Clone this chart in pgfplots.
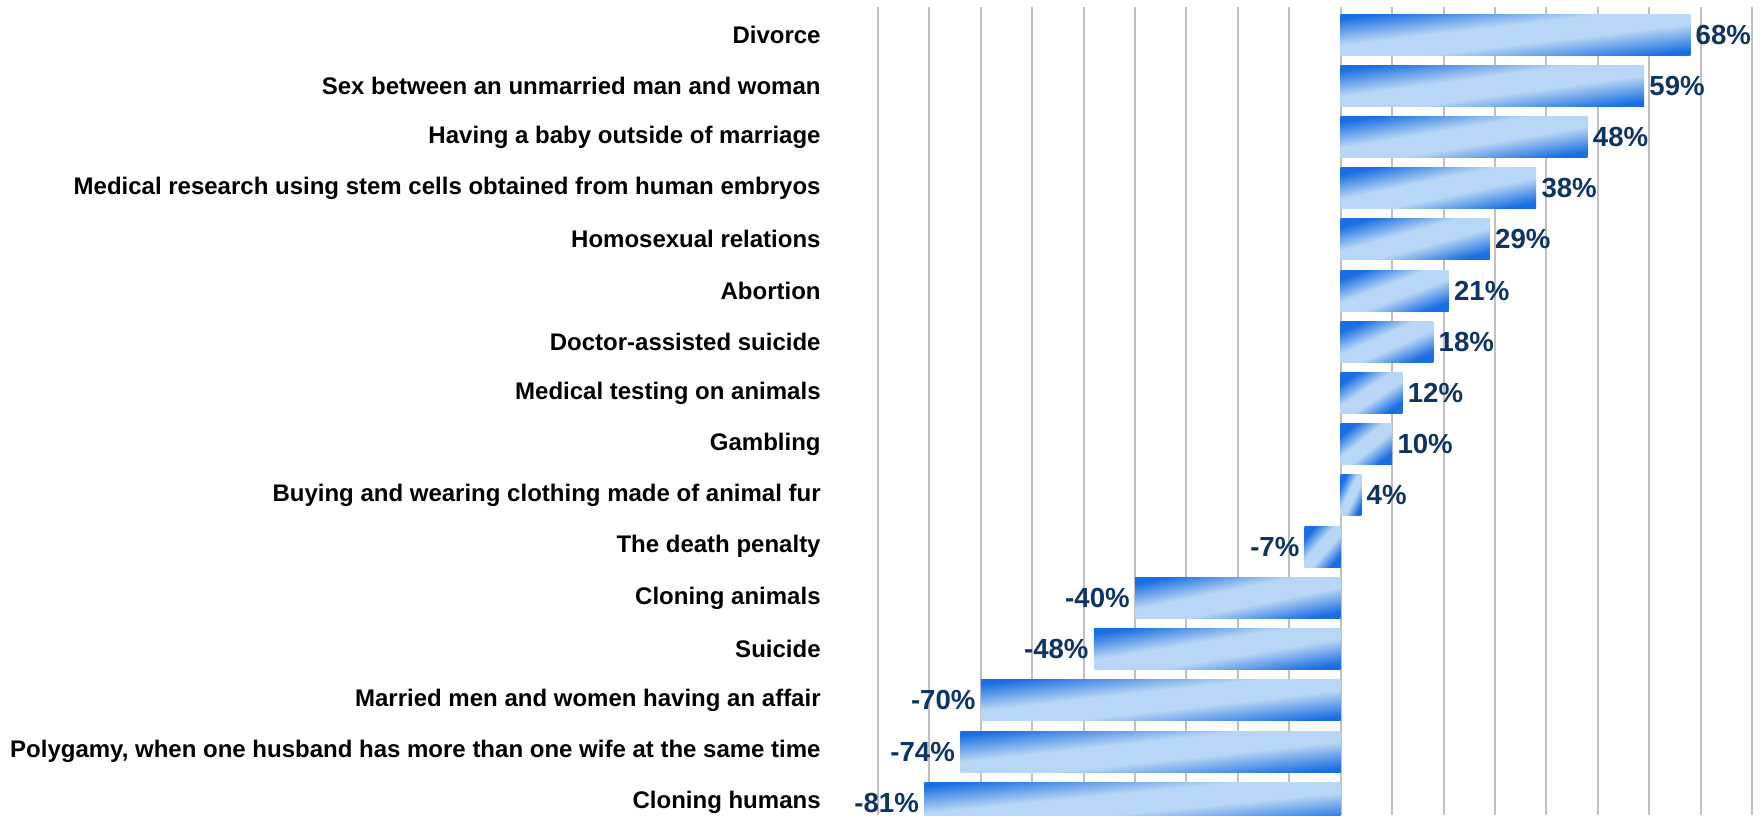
\documentclass[border=0pt]{standalone}
\usepackage{pgfplots}
\pgfplotsset{compat=1.18}
\usepackage{fontspec}
\setmainfont{Liberation Sans}
\definecolor{gridgray}{RGB}{192,192,192}
\definecolor{bardark}{RGB}{25,110,225}
\definecolor{barlight}{RGB}{184,214,245}
\definecolor{navy}{RGB}{14,52,100}
\pgfdeclareverticalshading{barshade}{100bp}{color(0bp)=(bardark); color(25bp)=(bardark); color(43bp)=(barlight); color(57bp)=(barlight); color(75bp)=(bardark); color(100bp)=(bardark)}
\begin{document}
\begin{tikzpicture}[x=1pt,y=1pt]
\useasboundingbox (0,0) rectangle (882,407.5);
\begin{axis}[
  at={(439pt,0pt)}, anchor=south west,
  scale only axis, width=437pt, height=404pt,
  xbar, bar width=20.5pt, bar shift=0pt,
  xmin=-90, xmax=80, ymin=-0.537, ymax=15.24, y dir=reverse,
  enlarge x limits=false, enlarge y limits=false,
  xtick={-90,-80,...,80}, xticklabels={},
  xmajorgrids, grid style={draw=gridgray, line width=1pt},
  ytick={0,...,15},
  yticklabels={Divorce,
    Sex between an unmarried man and woman,
    Having a baby outside of marriage,
    Medical research using stem cells obtained from human embryos,
    Homosexual relations,
    Abortion,
    Doctor-assisted suicide,
    Medical testing on animals,
    Gambling,
    Buying and wearing clothing made of animal fur,
    The death penalty,
    Cloning animals,
    Suicide,
    Married men and women having an affair,
    {Polygamy, when one husband has more than one wife at the same time},
    Cloning humans},
  yticklabel style={font=\fontsize{12pt}{14pt}\selectfont\bfseries, anchor=east, inner sep=0pt, xshift=-28.5pt},
  major tick length=0pt, axis line style={draw=none},
  point meta=x,
  nodes near coords={\pgfmathprintnumber[assume math mode=true]{\pgfplotspointmeta}\%},
  nodes near coords style={font=\fontsize{13.8pt}{15pt}\selectfont\bfseries, text=navy, inner sep=2.5pt},
  every axis plot/.append style={draw=none, shading=barshade, forget plot},
  clip=false,
]
\addplot[shading angle=6.69] coordinates {(68,0)};
\addplot[shading angle=7.70] coordinates {(59,1)};
\addplot[shading angle=9.43] coordinates {(48,2)};
\addplot[shading angle=11.85] coordinates {(38,3)};
\addplot[shading angle=15.38] coordinates {(29,4)};
\addplot[shading angle=20.8] coordinates {(21,5)};
\addplot[shading angle=23.9] coordinates {(18,6)};
\addplot[shading angle=33.6] coordinates {(12,7)};
\addplot[shading angle=38.57] coordinates {(10,8)};
\addplot[shading angle=63.36] coordinates {(4,9)};
\addplot[shading angle=48.72] coordinates {(-7,10)};
\addplot[shading angle=11.28] coordinates {(-40,11)};
\addplot[shading angle=9.43] coordinates {(-48,12)};
\addplot[shading angle=6.50] coordinates {(-70,13)};
\addplot[shading angle=6.15] coordinates {(-74,14)};
\addplot[shading angle=5.62] coordinates {(-81,15)};
\end{axis}
\end{tikzpicture}
\end{document}
